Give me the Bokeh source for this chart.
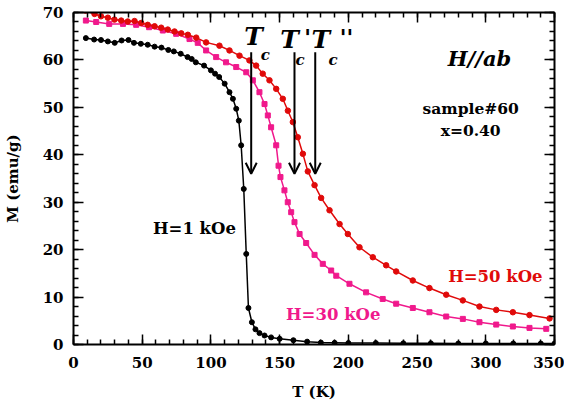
from bokeh.plotting import figure
from bokeh.models import (Range1d, LinearAxis, SingleIntervalTicker, Arrow, OpenHead,
                          CustomJSTickFormatter)
from bokeh.core.properties import value
from bokeh.embed import file_html
from bokeh.resources import INLINE

# ---- data ----
t_h1 = [9, 15, 20, 25, 30, 35, 40, 44, 49, 54, 59, 64, 69, 73, 78, 83, 86, 89, 95,
        100, 103, 106, 110, 113.5, 116, 118.4, 120.3, 122, 123.9, 125.7, 127.3, 129.8,
        132.4, 135.3, 139, 143.8, 150, 160, 170, 180, 190, 200, 220, 240, 260, 280,
        300, 320, 340, 350]
m_h1 = [64.6, 64.3, 64.2, 63.9, 63.6, 64.1, 64.2, 63.6, 63.4, 63.2, 62.8, 62.6, 62.1,
        61.8, 61.3, 60.6, 60.2, 59.5, 58.8, 57.8, 57.1, 56.4, 55.0, 53.2, 51.8, 49.7,
        47.2, 42.0, 32.8, 19.1, 7.7, 4.7, 3.2, 2.4, 1.9, 1.5, 1.2, 0.9, 0.6, 0.4, 0.35,
        0.3, 0.3, 0.25, 0.25, 0.2, 0.2, 0.2, 0.2, 0.2]

t_h30 = [9, 16.5, 26, 36, 45.6, 55, 65, 74.7, 84.4, 90.4, 96.5, 103.8, 111, 118.4,
         125.7, 130.5, 135.3, 139, 141.4, 143.8, 147.5, 149.2, 150.6, 153.5, 155.9,
         158.4, 160.8, 164.5, 169.3, 175.4, 181.4, 187.5, 191.2, 200.8, 212.9, 225,
         234.8, 246.9, 259, 271.2, 283.3, 295.4, 307.6, 319.7, 331.8, 344]
m_h30 = [68.3, 68.0, 67.6, 67.6, 67.4, 66.9, 66.2, 65.5, 64.4, 63.6, 62.0, 60.6, 59.5,
         58.5, 57.4, 55.7, 53.2, 50.7, 48.3, 45.8, 42.0, 37.7, 35.3, 32.5, 30.0, 27.9,
         25.8, 23.3, 21.4, 18.9, 17.0, 15.6, 14.5, 12.8, 11.0, 9.6, 8.6, 7.7, 6.8, 5.9,
         5.4, 4.7, 4.2, 3.8, 3.5, 3.3]

t_h50 = [8.7, 15.3, 20, 25, 29.8, 34.7, 39.5, 44.4, 49.3, 54, 59, 63.8, 68.6, 73.5,
         78.4, 83.2, 89.3, 96.5, 106.2, 113.5, 120.8, 128, 132.9, 137.7, 142.6, 147.5,
         152.3, 156, 159.6, 163.2, 166.9, 170.5, 175.4, 180.2, 186.3, 193.6, 199.6,
         208.1, 217.8, 227.5, 234.8, 246.9, 259, 271.2, 283.3, 295.4, 307.6, 319.7,
         331.8, 346.4]
m_h50 = [70.4, 69.7, 69.2, 68.9, 68.5, 68.3, 68.1, 68.2, 67.8, 67.4, 67.1, 66.8, 66.4,
         66.0, 65.6, 65.3, 64.7, 63.7, 63.0, 62.0, 60.9, 59.9, 58.8, 57.1, 55.7, 53.9,
         51.8, 49.3, 46.9, 43.7, 40.2, 36.5, 33.6, 30.9, 28.3, 25.4, 23.3, 20.5, 18.4,
         16.7, 15.4, 13.5, 11.9, 10.5, 9.3, 8.0, 7.3, 6.8, 6.2, 5.5]

tc_values = [129.3, 160.8, 175.9]
arrow_top, arrow_bottom = 61.6, 36.0

BLACK = "#000000"
PINK = "#f0198c"
RED = "#e00a0a"
FONT = "DejaVu Serif"

p = figure(frame_width=481, frame_height=332, output_backend="svg", toolbar_location=None,
           x_range=Range1d(0, 350), y_range=Range1d(0, 70),
           min_border_left=70, min_border_right=10, min_border_top=12, min_border_bottom=56)
p.xaxis.visible = False
p.yaxis.visible = False
p.xgrid.visible = False
p.ygrid.visible = False
p.outline_line_color = None
p.background_fill_color = "white"
p.border_fill_color = "white"


def style_axis(ax, labels=True):
    ax.axis_line_width = 2
    ax.axis_line_color = "black"
    ax.major_tick_in = 10
    ax.major_tick_out = 0
    ax.minor_tick_in = 5
    ax.minor_tick_out = 0
    ax.major_tick_line_width = 1.5
    ax.minor_tick_line_width = 1.5
    ax.major_tick_line_color = "black"
    ax.minor_tick_line_color = "black"
    if labels:
        ax.major_label_text_font = FONT
        ax.major_label_text_font_style = "bold"
        ax.major_label_text_font_size = "15px"
        ax.major_label_text_color = "black"
        ax.axis_label_text_font = FONT
        ax.axis_label_text_font_style = "bold"
        ax.axis_label_text_font_size = "15px"
        ax.axis_label_text_color = "black"
    else:
        ax.formatter = CustomJSTickFormatter(code="return ''")
        ax.major_label_text_font_size = "8px"
        ax.major_label_standoff = 0


xb = LinearAxis(ticker=SingleIntervalTicker(interval=50, num_minor_ticks=5), axis_label="T (K)")
style_axis(xb)
xb.major_label_standoff = 12
xb.axis_label_standoff = 12
p.add_layout(xb, "below")

yl = LinearAxis(ticker=SingleIntervalTicker(interval=10, num_minor_ticks=5), axis_label="M (emu/g)")
style_axis(yl)
yl.major_label_standoff = 10
yl.axis_label_standoff = 18
p.add_layout(yl, "left")

xt = LinearAxis(ticker=SingleIntervalTicker(interval=50, num_minor_ticks=5))
style_axis(xt, labels=False)
p.add_layout(xt, "above")

yr = LinearAxis(ticker=SingleIntervalTicker(interval=10, num_minor_ticks=5))
style_axis(yr, labels=False)
p.add_layout(yr, "right")

# ---- curves ----
p.line(t_h1, m_h1, line_color=BLACK, line_width=1.5)
p.scatter(t_h1, m_h1, marker="circle", size=5, fill_color=BLACK, line_color=BLACK)

p.line(t_h30, m_h30, line_color=PINK, line_width=1.5)
p.scatter(t_h30, m_h30, marker="square", size=5, fill_color=PINK, line_color=PINK)

p.line(t_h50, m_h50, line_color=RED, line_width=1.5)
p.scatter(t_h50, m_h50, marker="circle", size=5.5, fill_color=RED, line_color=RED)

# ---- arrows ----
for tc in tc_values:
    p.add_layout(Arrow(x_start=tc, y_start=arrow_top, x_end=tc, y_end=arrow_bottom,
                       line_width=2, line_color="black",
                       end=OpenHead(size=11, line_width=2, line_color="black")))

# ---- text annotations ----
def txt(x, y, s, size, color="black", style="bold", align="center"):
    p.text(x=[x], y=[y], text=[s], text_font=value(FONT), text_font_style=style,
           text_font_size=size, text_color=color, text_align=align,
           text_baseline="middle")

txt(131, 64.9, "T", "25px", style="bold italic")
txt(139.5, 61.0, "c", "15px", style="bold italic")
txt(157.2, 64.4, "T", "25px", style="bold italic")
txt(170.3, 64.9, "'", "22px", style="bold italic")
txt(164.8, 60.0, "c", "15px", style="bold italic")
txt(179.9, 64.4, "T", "25px", style="bold italic")
txt(198.6, 64.9, "''", "22px", style="bold italic")
txt(188.9, 60.0, "c", "15px", style="bold italic")

txt(295.4, 60.3, "H//ab", "21px", style="bold italic")
txt(289, 49.8, "sample#60", "15.5px")
txt(289, 45.1, "x=0.40", "15.5px")

txt(88, 24.5, "H=1 kOe", "16.5px", color=BLACK)
txt(189, 6.3, "H=30 kOe", "16.5px", color=PINK)
txt(307, 14.3, "H=50 kOe", "16.5px", color=RED)

open("out.html", "w").write(file_html(p, INLINE))
